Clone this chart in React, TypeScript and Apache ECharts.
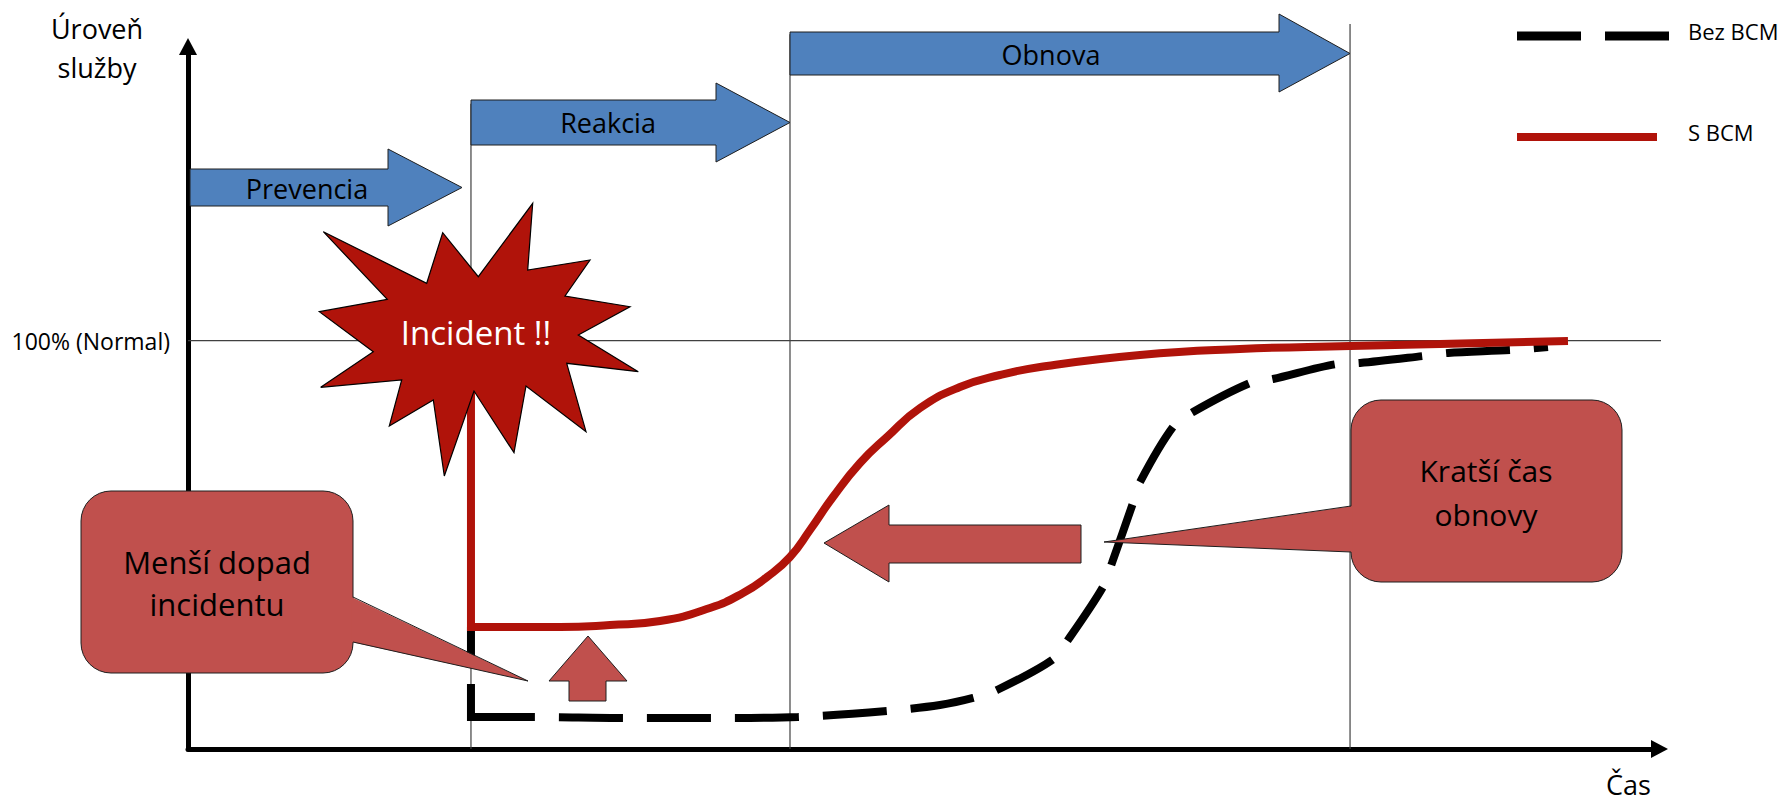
import React, { useEffect, useRef } from 'react';
import * as echarts from 'echarts';

const FONT = '"Open Sans", "Noto Sans", sans-serif';

// Axes: time (0..100) and service level (0..172, 100 = normal)
const X_MAX = 100;
const Y_MAX = 172;
const NORMAL_LEVEL = 100;
const NORMAL_LINE_END = 100.45;
const yTickLabels: Record<number, string> = { 100: '100% (Normal)' };
const axisNames = { x: 'Čas', y: 'Úroveň\nslužby' };

const seriesNames = ['Bez BCM', 'S BCM'];

// Phase boundaries: incident, end of reaction, end of recovery
const phaseBoundaries = [19.23, 40.91, 78.97];
const phaseLineTops = [158, 175, 177.5];

// "Bez BCM" (without BCM)
const withoutBcmDrop = [
  [19.23, 29.87],
  [19.23, 6.85],
];
const withoutBcmCurve = [
  [19.23, 7.83], [23.51, 7.83], [29.56, 7.59], [35.54, 7.59], [41.45, 7.83],
  [47.5, 9.3], [51.1, 10.77], [53.35, 12.49], [54.98, 14.45], [58.72, 21.79],
  [59.8, 26.69], [62.18, 39.66], [62.79, 45.54], [64.22, 60.23], [64.7, 65.37],
  [66.94, 78.84], [68.3, 82.51], [72.17, 89.61], [73.73, 90.59], [78.08, 94.26],
  [79.65, 94.51], [83.93, 96.22], [85.63, 96.96], [89.98, 97.7], [92.42, 98.43],
];

// "S BCM" (with BCM)
const withBcmDrop = [
  [19.23, 89.12],
  [19.23, 28.89],
];
const withBcmCurve = [
  [19.23, 29.87], [25.28, 29.87], [28.68, 30.36], [32.08, 31.34], [35.47, 34.52],
  [37.72, 38.2], [39.35, 42.11], [40.91, 47.01], [42.27, 53.62], [43.83, 61.7],
  [45.67, 70.02], [47.5, 76.39], [49.75, 83.49], [52.46, 88.63], [55.18, 91.57],
  [57.9, 93.53], [64.7, 96.47], [71.49, 97.94], [78.97, 98.67], [85.08, 99.16],
  [93.78, 99.89],
];

const phaseLabels = ['Prevencia', 'Reakcia', 'Obnova'];
const incidentLabel = 'Incident !!';
const calloutLabels = ['Menší dopad\nincidentu', 'Kratší čas\nobnovy'];

const BLUE = '#4F81BD';
const RED = '#B0130A';
const CALLOUT = '#C0504D';
const EDGE = '#1E1E1E';

// legend icons: dashed black bar and solid red bar (bars sit a bit below the text centre)
const DASHED_ICON = 'path://M0,13.5h64v9h-64z M88,13.5h64v9h-64z M0,0L0.01,0 M0,26L0.01,26';
const SOLID_ICON = 'path://M0,14h140v8h-140z M0,0L0.01,0 M152,26L152.01,26';

function rightArrow(x0: number, x1: number, x2: number, yt: number, yb: number, ht: number, hb: number) {
  const ty = (yt + yb) / 2;
  return [[x0, yt], [x1, yt], [x1, ht], [x2, ty], [x1, hb], [x1, yb], [x0, yb]];
}

const starPoints = [
  [532.7, 203.3], [527.7, 270], [590, 260], [565, 296], [630, 306.7], [578.3, 335],
  [638.3, 371.7], [566.7, 363.3], [586, 431.7], [526, 386], [514, 452.7], [474, 391],
  [444.3, 476], [433.3, 400], [389.3, 426], [401.7, 380], [320.7, 387.3], [373.3, 351.7],
  [319.3, 311.7], [387.3, 299.3], [323.3, 231.7], [426.7, 283.3], [442.7, 232.7], [478.3, 276.7],
];

function buildGraphics() {
  const z = 50;
  const els: any[] = [];
  const arrows = [
    { pts: rightArrow(190, 388, 462, 169, 206, 149, 226), label: phaseLabels[0], tx: 307, ty: 188 },
    { pts: rightArrow(471, 716, 790, 100, 145, 83, 162), label: phaseLabels[1], tx: 608, ty: 122 },
    { pts: rightArrow(790, 1279, 1350, 32, 75, 14, 92), label: phaseLabels[2], tx: 1051, ty: 54 },
  ];
  arrows.forEach((a) => {
    els.push({ type: 'polygon', z, silent: true, shape: { points: a.pts }, style: { fill: BLUE, stroke: EDGE, lineWidth: 1 } });
    els.push({
      type: 'text', z: z + 1, silent: true, x: a.tx, y: a.ty,
      style: { text: a.label, fontSize: 27, fontFamily: FONT, fill: '#000', textAlign: 'center', textVerticalAlign: 'middle' },
    });
  });

  // star
  els.push({ type: 'polygon', z, silent: true, shape: { points: starPoints }, style: { fill: RED, stroke: '#000', lineWidth: 1.2 } });
  els.push({
    type: 'text', z: z + 1, silent: true, x: 476, y: 332,
    style: { text: incidentLabel, fontSize: 33, fontFamily: FONT, fill: '#fff', textAlign: 'center', textVerticalAlign: 'middle' },
  });

  // callouts
  const callouts = [
    { x: 81, y: 491, w: 272, h: 182, ptr: [[353, 597], [528, 681], [353, 642]], text: calloutLabels[0], tx: 217, ty: 583, lh: 42, fs: 31 },
    { x: 1351, y: 400, w: 271, h: 182, ptr: [[1351, 506], [1104, 542], [1351, 552]], text: calloutLabels[1], tx: 1486, ty: 492, lh: 44, fs: 30 },
  ];
  callouts.forEach((c) => {
    els.push({ type: 'rect', z, silent: true, shape: { x: c.x, y: c.y, width: c.w, height: c.h, r: 30 }, style: { fill: CALLOUT, stroke: EDGE, lineWidth: 1 } });
    const dx = c.ptr[1][0] > c.ptr[0][0] ? -1.5 : 1.5;
    const fillPts = [[c.ptr[0][0] + dx, c.ptr[0][1]], c.ptr[1], [c.ptr[2][0] + dx, c.ptr[2][1]]];
    els.push({ type: 'polygon', z, silent: true, shape: { points: fillPts }, style: { fill: CALLOUT, lineWidth: 0 } });
    els.push({ type: 'polyline', z, silent: true, shape: { points: c.ptr }, style: { fill: null, stroke: EDGE, lineWidth: 1 } });
    els.push({
      type: 'text', z: z + 1, silent: true, x: c.tx, y: c.ty,
      style: { text: c.text, fontSize: c.fs, lineHeight: c.lh, fontFamily: FONT, fill: '#000', textAlign: 'center', textVerticalAlign: 'middle' },
    });
  });

  // block arrows
  const leftArrow = [[824, 543], [889, 505], [889, 525], [1081, 525], [1081, 563], [889, 563], [889, 582]];
  const upArrow = [[588, 636], [627, 681], [606, 681], [606, 701], [569, 701], [569, 681], [549, 681]];
  els.push({ type: 'polygon', z, silent: true, shape: { points: leftArrow }, style: { fill: CALLOUT, stroke: EDGE, lineWidth: 1 } });
  els.push({ type: 'polygon', z, silent: true, shape: { points: upArrow }, style: { fill: CALLOUT, stroke: EDGE, lineWidth: 1 } });
  return els;
}

export default function App() {
  const ref = useRef<HTMLDivElement>(null);

  useEffect(() => {
    if (!ref.current) return;
    const chart = echarts.init(ref.current, null, { renderer: 'svg' });

    const phaseSeries = phaseBoundaries.map((x, i) => ({
      type: 'line',
      name: 'phase' + i,
      data: [[x, 0], [x, phaseLineTops[i]]],
      showSymbol: false,
      symbol: 'none',
      clip: false,
      silent: true,
      z: 1,
      lineStyle: { color: '#404040', width: 1.2 },
    }));

    const option: any = {
      animation: false,
      textStyle: { fontFamily: FONT },
      grid: { left: 188, right: 127.5, top: 46.5, bottom: 54, containLabel: false, outerBoundsMode: 'none' },
      legend: {
        data: [
          { name: seriesNames[0], icon: DASHED_ICON },
          { name: seriesNames[1], icon: SOLID_ICON },
        ],
        orient: 'vertical',
        left: 1512,
        top: 13,
        itemWidth: 152,
        itemHeight: 26,
        itemGap: 75,
        selectedMode: false,
        itemStyle: { borderWidth: 0 },
        textStyle: { fontSize: 22, lineHeight: 24, fontFamily: FONT, color: '#000', padding: [0, 0, 0, 14] },
      },
      xAxis: {
        type: 'value',
        min: 0,
        max: X_MAX,
        name: axisNames.x,
        nameLocation: 'end',
        nameGap: -31,
        nameTextStyle: { fontSize: 27, fontFamily: FONT, color: '#000', align: 'center', verticalAlign: 'top', padding: [22, 0, 0, 0] },
        axisLine: { show: true, onZero: false, symbol: ['none', 'triangle'], symbolSize: [18, 17], lineStyle: { color: '#000', width: 5 } },
        axisTick: { show: false },
        axisLabel: { show: false },
        splitLine: { show: false },
      },
      yAxis: {
        type: 'value',
        min: 0,
        max: Y_MAX,
        interval: 100,
        name: axisNames.y,
        nameLocation: 'end',
        nameGap: -1,
        nameTextStyle: { fontSize: 27, lineHeight: 39, fontFamily: FONT, color: '#000', align: 'center', verticalAlign: 'middle', padding: [0, 182, 0, 0] },
        axisLine: { show: true, onZero: false, symbol: ['none', 'triangle'], symbolSize: [18, 17], lineStyle: { color: '#000', width: 5 } },
        axisTick: { show: false },
        axisLabel: {
          show: true,
          margin: 18,
          fontSize: 23,
          fontFamily: FONT,
          color: '#000',
          formatter: (v: number) => yTickLabels[v] ?? '',
        },
        splitLine: { show: false },
      },
      series: [
        ...phaseSeries,
        {
          type: 'line',
          name: 'normal',
          data: [[0, NORMAL_LEVEL], [NORMAL_LINE_END, NORMAL_LEVEL]],
          showSymbol: false,
          symbol: 'none',
          clip: false,
          silent: true,
          z: 1,
          lineStyle: { color: '#404040', width: 1.2 },
        },
        {
          type: 'line',
          name: seriesNames[0],
          data: withoutBcmCurve,
          smooth: 0.3,
          showSymbol: false,
          symbol: 'none',
          silent: true,
          clip: false,
          z: 3,
          color: '#000',
          itemStyle: { color: '#000' },
          lineStyle: { color: '#000', width: 8, type: [64, 24], dashOffset: 0, cap: 'butt' },
        },
        {
          type: 'line',
          name: seriesNames[0],
          data: withoutBcmDrop,
          showSymbol: false,
          symbol: 'none',
          silent: true,
          clip: false,
          z: 3,
          color: '#000',
          itemStyle: { color: '#000' },
          lineStyle: { color: '#000', width: 8, type: [64, 24], dashOffset: 31, cap: 'butt' },
        },
        {
          type: 'line',
          name: seriesNames[1],
          data: withBcmCurve,
          smooth: 0.5,
          showSymbol: false,
          symbol: 'none',
          silent: true,
          clip: false,
          z: 4,
          color: RED,
          itemStyle: { color: RED },
          lineStyle: { color: RED, width: 8, cap: 'butt' },
        },
        {
          type: 'line',
          name: seriesNames[1],
          data: withBcmDrop,
          showSymbol: false,
          symbol: 'none',
          silent: true,
          clip: false,
          z: 4,
          color: RED,
          itemStyle: { color: RED },
          lineStyle: { color: RED, width: 8, cap: 'butt' },
        },
      ],
      graphic: buildGraphics(),
    };

    chart.setOption(option);
    return () => chart.dispose();
  }, []);

  return (
    <div
      ref={ref}
      style={{ position: 'absolute', left: 0, top: 0, width: 1787, height: 803, background: '#fff' }}
    />
  );
}
